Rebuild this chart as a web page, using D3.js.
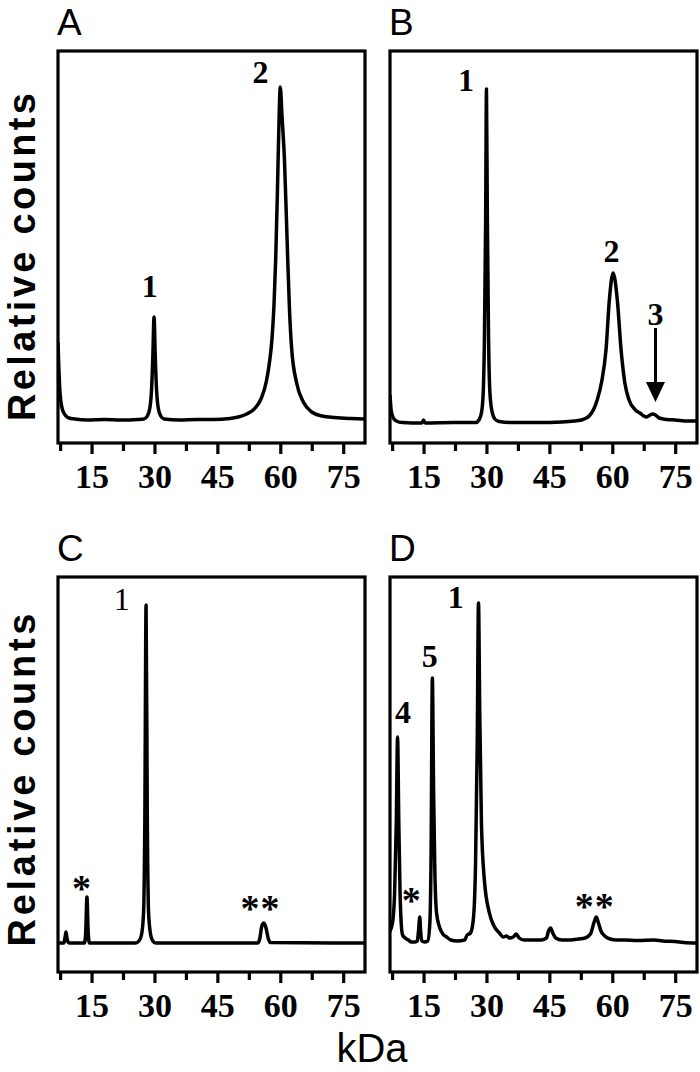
<!DOCTYPE html>
<html><head><meta charset="utf-8">
<script src="https://cdn.jsdelivr.net/npm/d3@7"></script>
<style>body{margin:0;background:#fff}svg{display:block}</style>
</head><body>
<svg id="chart" width="700" height="1072"></svg>
<script>
// ---- data (kDa, relative counts) ----
const panelNames = ["A", "B", "C", "D"];
const majorTicks = [15, 30, 45, 60, 75];
const minorTicks = [7.5, 22.5, 37.5, 52.5, 67.5];

const seriesA = [[7.0,78],[7.2,52],[7.4,32],[7.7,18],[8.1,10],[8.7,5],[9.6,2],[11,1],[14,0],[18,0.5],[22,0],[26,0.5],
 [27.5,1],[28.3,4],[28.9,12],[29.3,30],[29.6,62],[29.9,103],[30.2,62],[30.5,30],[30.9,12],[31.5,4],[32.3,1],
 [36,0],[40,0.5],[44,0.5],[48,1.5],[50,3],[52,6],[54,12],[55.5,22],[56.7,39],[57.5,60],[58.0,80],[58.5,115],[58.9,160],
 [59.3,225],[59.7,300],[60.0,333],[60.4,305],[61.0,260],[61.7,170],[62.2,110],[62.7,72],[63.9,37],[65.5,18],[67.5,8],
 [70,4],[73,2.5],[77,1.5],[80.2,1]];

const seriesB = [[7.0,28],[7.3,12],[7.8,5],[8.5,2],[10,0.5],[14.6,0],[15.0,3],[15.4,0],[22,0.5],
 [27.5,0.5],[28.2,3],[28.8,10],[29.2,28],[29.5,80],[29.8,200],[30.0,334],[30.2,210],[30.5,85],[30.8,32],[31.3,12],[32,4],[33,1.5],
 [36,0.5],[42,0.5],[48,1],[51,2],[53,3.5],[54.5,7],[55.6,14],[56.4,23],[57.5,42],[58.5,73],[59.3,123],[60.2,150],[61.2,123],
 [62.1,73],[63.0,40],[64.0,23],[65.5,13],[66.6,10],[67.5,7],[68.2,6],[69.0,8],[69.6,9],[70.3,8],[71.2,5],[73,3.5],[75,3],[78,2],[80.2,2]];

const seriesC = [[7.0,0],[8.4,0],[8.7,6],[8.9,11],[9.1,6],[9.4,1],[9.8,0],[13.3,0],[13.6,10],[13.9,46],[14.2,10],[14.5,0],
 [25.5,0],[26.3,2],[26.9,8],[27.4,30],[27.7,120],[28.0,338],[28.3,120],[28.6,30],[29.1,8],[29.6,2],[30.3,0],
 [54.6,0],[55.1,4],[55.6,17],[56.1,20],[56.6,15],[57.1,5],[57.6,0.5],[80.2,0]];

const seriesD = [[7.0,12],[7.6,20],[8.1,50],[8.5,120],[8.8,206],[9.1,120],[9.4,50],[9.7,18],[10.0,8],[10.6,5],[11.4,3],[12.1,1],
 [13.0,1],[13.5,2],[13.8,12],[14.1,26],[14.3,12],[14.6,2],[15.2,1],[16.0,2],[16.5,20],[16.8,90],[17.1,265],[17.4,150],[17.7,70],
 [18.1,30],[18.8,16],[19.6,9],[20.5,6],[21.5,3],[23,2],[24.8,3],[25.4,8],[26.2,10],[26.9,25],[27.4,80],[27.8,200],[28.1,340],
 [28.4,230],[28.8,120],[29.5,63],[30.7,30],[31.8,17],[33.1,10],[34.0,6],[34.8,7],[35.5,5],[36.4,6],[37.1,9],[37.8,5],[39,3],
 [41,3],[43,3],[44.3,5],[44.8,12],[45.3,15],[45.8,10],[46.5,5],[48,3],[50,3],[52,4],[53.5,5],[54.8,9],[55.6,20],[56.2,26],
 [56.7,20],[57.3,12],[58.2,7],[59.5,4],[61,3],[63,3],[66,2.5],[70,3],[72,2],[75,1.5],[77,0.5],[80.2,0]];

// peak annotations: [kDa, counts, text, bold]
const labelsA = [[28.9,123,"1",true],[55.3,337,"2",true]];
const labelsB = [[25.1,332,"1",true],[59.8,161,"2",true],[70.3,98,"3",true]];
const labelsC = [[22.2,333,"1",false],[12.7,42,"*",true],[55.3,22,"**",true]];
const labelsD = [[22.7,335,"1",true],[16.5,276,"5",true],[10.1,220,"4",true],[12.2,30,"*",true],[55.8,24,"**",true]];
const arrowB = [70.3, 95, 21]; // kDa, from counts, to counts

// ---- layout ----
const svg = d3.select("#chart");
const frames = [
  {name:"A", x0:58, x1:365, y0:51, y1:443, ydom:[-23,369], data:seriesA, labels:labelsA},
  {name:"B", x0:390, x1:697, y0:51, y1:443, ydom:[-20,372], data:seriesB, labels:labelsB, arrow:arrowB},
  {name:"C", x0:58, x1:365, y0:577, y1:972, ydom:[-29,366], data:seriesC, labels:labelsC},
  {name:"D", x0:390, x1:697, y0:577, y1:972, ydom:[-29,366], data:seriesD, labels:labelsD}
];
const serif = "'Liberation Serif','Times New Roman',serif";
const sans = "'Liberation Sans',Arial,Helvetica,sans-serif";

frames.forEach((f, i) => {
  const x = d3.scaleLinear().domain([7, 80.2]).range([f.x0, f.x1]);
  const y = d3.scaleLinear().domain(f.ydom).range([f.y1, f.y0]);
  const g = svg.append("g");
  const clipId = "clip" + f.name;
  svg.append("clipPath").attr("id", clipId).append("rect")
    .attr("x", f.x0).attr("y", f.y0).attr("width", f.x1 - f.x0).attr("height", f.y1 - f.y0);

  const line = d3.line().x(d => x(d[0])).y(d => y(d[1])).curve(d3.curveMonotoneX);
  g.append("path").datum(f.data).attr("clip-path", `url(#${clipId})`)
    .attr("d", line).attr("fill", "none").attr("stroke", "#000")
    .attr("stroke-width", 3.5).attr("stroke-linejoin", "round");

  // frame
  g.append("rect").attr("x", f.x0).attr("y", f.y0).attr("width", f.x1 - f.x0).attr("height", f.y1 - f.y0)
    .attr("fill", "none").attr("stroke", "#000").attr("stroke-width", 3.2);

  // axes
  const ax = g.append("g").attr("transform", `translate(0,${f.y1})`)
    .call(d3.axisBottom(x).tickValues(majorTicks).tickSize(11).tickFormat(d3.format("d")));
  ax.select(".domain").remove();
  ax.selectAll(".tick line").attr("stroke-width", 3.2).attr("y1", 1);
  ax.selectAll(".tick text").attr("y", 45).attr("dy", null)
    .style("font-family", serif).style("font-weight", "bold").style("font-size", "34px").attr("fill", "#000");
  const axm = g.append("g").attr("transform", `translate(0,${f.y1})`)
    .call(d3.axisBottom(x).tickValues(minorTicks).tickSize(8).tickFormat(""));
  axm.select(".domain").remove();
  axm.selectAll(".tick line").attr("stroke-width", 3.2).attr("y1", 1);

  // panel letter
  g.append("text").attr("x", f.x0 - 1).attr("y", f.y0 - 16).text(f.name)
    .style("font-family", sans).style("font-size", "37px").attr("fill", "#000");

  // peak labels
  f.labels.forEach(l => {
    const star = l[2].indexOf("*") >= 0;
    g.append("text").attr("x", x(l[0])).attr("y", y(l[1])).attr("text-anchor", "middle").text(l[2])
      .attr("letter-spacing", star ? 1 : 0)
      .style("font-family", serif).style("font-weight", l[3] ? "bold" : "normal")
      .style("font-size", star ? "38px" : "32px").attr("fill", "#000");
  });

  if (f.arrow) {
    const ax0 = x(f.arrow[0]), yTop = y(f.arrow[1]), yTip = y(f.arrow[2]);
    g.append("line").attr("x1", ax0).attr("x2", ax0).attr("y1", yTop).attr("y2", yTip - 15)
      .attr("stroke", "#000").attr("stroke-width", 3);
    g.append("path").attr("d", `M${ax0 - 9.5},${yTip - 20}L${ax0 + 9.5},${yTip - 20}L${ax0},${yTip}Z`).attr("fill", "#000");
  }
});

// y-axis titles
[[257, 328], [780, 333]].forEach(([cy, len]) => {
  svg.append("text").attr("transform", `translate(35,${cy}) rotate(-90)`).attr("text-anchor", "middle")
    .attr("textLength", len).attr("lengthAdjust", "spacing")
    .text("Relative counts").style("font-family", sans).style("font-weight", "bold")
    .style("font-size", "38px").attr("fill", "#000");
});

// x-axis title
svg.append("text").attr("x", 372).attr("y", 1062).attr("text-anchor", "middle")
  .text("kDa").style("font-family", sans).style("font-size", "40px").attr("fill", "#000");
</script>
</body></html>
